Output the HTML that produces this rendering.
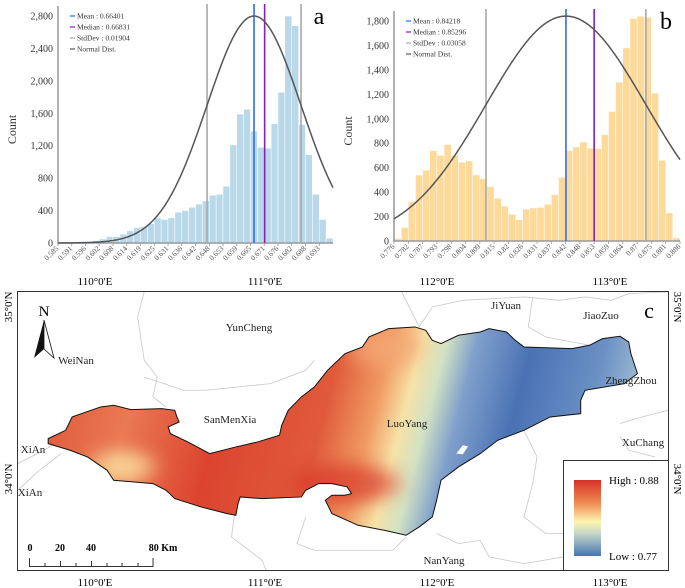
<!DOCTYPE html>
<html><head><meta charset="utf-8"><style>
html,body{margin:0;padding:0;background:#fff;}
svg{display:block;font-family:"Liberation Serif",serif;}
</style></head><body>
<svg id="root" width="685" height="588" viewBox="0 0 685 588">
<defs>
<linearGradient id="basinGrad" gradientUnits="userSpaceOnUse" x1="110" y1="350" x2="1460" y2="620">
<stop offset="0" stop-color="#e0563a"/><stop offset="0.15" stop-color="#ea7a52"/><stop offset="0.3" stop-color="#dc4430"/>
<stop offset="0.47" stop-color="#e05a3a"/><stop offset="0.55" stop-color="#f09a62"/><stop offset="0.6" stop-color="#f6e2a6"/>
<stop offset="0.64" stop-color="#d2e2c4"/><stop offset="0.69" stop-color="#7f9fcc"/><stop offset="0.78" stop-color="#4a72b4"/>
<stop offset="0.9" stop-color="#6a90c4"/><stop offset="1" stop-color="#b4cbd8"/></linearGradient>
<linearGradient id="legGrad" x1="0" y1="0" x2="0" y2="1">
<stop offset="0" stop-color="#d73027"/><stop offset="0.3" stop-color="#f08a52"/><stop offset="0.55" stop-color="#fdf5b0"/><stop offset="0.7" stop-color="#c8d8c8"/><stop offset="1" stop-color="#4575b4"/></linearGradient>
<clipPath id="basinClip"><path id="basinShape" d="M110,565 L150,540 L165,500 L230,470 L260,465 L300,478 L370,475 L400,480 L405,500 L410,515 L385,530 L390,550 L430,575 L480,610 L540,590 L590,575 L640,555 L645,525 L660,480 L690,440 L720,410 L750,360 L790,310 L830,290 L845,260 L890,235 L950,230 L975,240 L990,270 L1010,280 L1050,255 L1100,245 L1120,235 L1160,245 L1180,270 L1200,290 L1310,295 L1350,285 L1380,265 L1420,258 L1440,275 L1445,310 L1460,370 L1430,400 L1340,420 L1330,450 L1330,490 L1260,500 L1200,540 L1140,570 L1100,610 L1050,650 L1010,690 L1000,750 L990,800 L960,830 L930,855 L880,840 L820,825 L760,790 L745,750 L760,735 L790,735 L805,730 L795,710 L760,700 L730,700 L700,720 L690,740 L600,745 L550,740 L545,760 L540,795 L520,790 L490,780 L460,770 L400,745 L380,720 L350,700 L260,690 L245,660 L200,620 L160,600 L110,580 Z"/></clipPath>
<filter id="blur" x="-50%" y="-50%" width="200%" height="200%"><feGaussianBlur stdDeviation="25"/></filter>
</defs>
<g id="chartA"></g>
<g id="chartB"></g>

<g>
<text x="95" y="285" font-size="11" text-anchor="middle">110°0'E</text>
<text x="265" y="285" font-size="11" text-anchor="middle">111°0'E</text>
<text x="437" y="285" font-size="11" text-anchor="middle">112°0'E</text>
<text x="610" y="285" font-size="11" text-anchor="middle">113°0'E</text>
<text x="95" y="586" font-size="11" text-anchor="middle">110°0'E</text>
<text x="265" y="586" font-size="11" text-anchor="middle">111°0'E</text>
<text x="437" y="586" font-size="11" text-anchor="middle">112°0'E</text>
<text x="610" y="586" font-size="11" text-anchor="middle">113°0'E</text>
<text transform="translate(12,307) rotate(-90)" font-size="11" text-anchor="middle">35°0'N</text>
<text transform="translate(12,479) rotate(-90)" font-size="11" text-anchor="middle">34°0'N</text>
<text transform="translate(674,307) rotate(90)" font-size="11" text-anchor="middle">35°0'N</text>
<text transform="translate(674,479) rotate(90)" font-size="11" text-anchor="middle">34°0'N</text>
<g transform="translate(0.15,250.3) scale(0.4365,0.3333)">
<g fill="none" stroke="#c8c8c8" stroke-width="0.8">
<path vector-effect="non-scaling-stroke" d="M330,125 L315,200 L330,330 L360,380 L350,440 L380,470"/>
<path vector-effect="non-scaling-stroke" d="M330,380 L420,420 L470,420 L620,400 L700,360 L720,330"/>
<path vector-effect="non-scaling-stroke" d="M40,640 L100,600 L150,560"/>
<path vector-effect="non-scaling-stroke" d="M40,720 L90,660 L140,610"/>
<path vector-effect="non-scaling-stroke" d="M920,125 L960,230 L990,170 L1060,150 L1200,140 L1280,150 L1340,140 L1400,150 L1440,130 L1530,125"/>
<path vector-effect="non-scaling-stroke" d="M1220,140 L1210,230 L1250,260 L1350,285"/>
<path vector-effect="non-scaling-stroke" d="M540,760 L530,860 L600,930 L610,962"/>
<path vector-effect="non-scaling-stroke" d="M700,800 L680,880 L720,900 L900,900 L930,860"/>
<path vector-effect="non-scaling-stroke" d="M1000,850 L1050,880 L1100,870 L1120,920 L1200,940 L1290,920"/>
<path vector-effect="non-scaling-stroke" d="M1200,540 L1230,620 L1220,700 L1200,800 L1250,850 L1290,850"/>
<path vector-effect="non-scaling-stroke" d="M1420,520 L1470,500 L1530,480"/>
<path vector-effect="non-scaling-stroke" d="M1420,560 L1440,600 L1500,620"/>
</g>
<g clip-path="url(#basinClip)">
<rect x="100" y="220" width="1370" height="650" fill="url(#basinGrad)"/>
<ellipse cx="280" cy="650" rx="70" ry="50" fill="#f8d898" filter="url(#blur)" opacity="0.9"/>
<ellipse cx="880" cy="290" rx="80" ry="60" fill="#f4a874" filter="url(#blur)" opacity="0.8"/>
<ellipse cx="790" cy="700" rx="120" ry="60" fill="#d8382a" filter="url(#blur)" opacity="0.7"/>
</g>
<path fill="none" stroke="#111" stroke-width="1" vector-effect="non-scaling-stroke"
d="M110,565 L150,540 L165,500 L230,470 L260,465 L300,478 L370,475 L400,480 L405,500 L410,515 L385,530 L390,550 L430,575 L480,610 L540,590 L590,575 L640,555 L645,525 L660,480 L690,440 L720,410 L750,360 L790,310 L830,290 L845,260 L890,235 L950,230 L975,240 L990,270 L1010,280 L1050,255 L1100,245 L1120,235 L1160,245 L1180,270 L1200,290 L1310,295 L1350,285 L1380,265 L1420,258 L1440,275 L1445,310 L1460,370 L1430,400 L1340,420 L1330,450 L1330,490 L1260,500 L1200,540 L1140,570 L1100,610 L1050,650 L1010,690 L1000,750 L990,800 L960,830 L930,855 L880,840 L820,825 L760,790 L745,750 L760,735 L790,735 L805,730 L795,710 L760,700 L730,700 L700,720 L690,740 L600,745 L550,740 L545,760 L540,795 L520,790 L490,780 L460,770 L400,745 L380,720 L350,700 L260,690 L245,660 L200,620 L160,600 L110,580 Z"/>
<path d="M1045,610 L1060,585 L1072,588 L1060,612 Z" fill="#fff"/>
</g>
<rect x="17.5" y="291.5" width="651" height="279" fill="none" stroke="#333" stroke-width="1"/>
<g>
<text x="44" y="316" font-size="15" text-anchor="middle">N</text>
<polygon points="44,320 34,358 44,349" fill="#111"/><polygon points="44,320 54,358 44,349" fill="#fff" stroke="#111" stroke-width="0.8"/>
</g>
<text x="649" y="318" font-size="22" text-anchor="middle">c</text>
<g font-size="11" fill="#222">
<text x="249" y="331" text-anchor="middle">YunCheng</text>
<text x="506" y="309" text-anchor="middle">JiYuan</text>
<text x="601" y="319" text-anchor="middle">JiaoZuo</text>
<text x="76" y="364" text-anchor="middle">WeiNan</text>
<text x="631" y="384" text-anchor="middle">ZhengZhou</text>
<text x="230" y="423" text-anchor="middle">SanMenXia</text>
<text x="407" y="427" text-anchor="middle">LuoYang</text>
<text x="643" y="446" text-anchor="middle">XuChang</text>
<text x="33" y="453" text-anchor="middle">XiAn</text>
<text x="30" y="496" text-anchor="middle">XiAn</text>
<text x="444" y="564" text-anchor="middle">NanYang</text>
</g>
<g font-size="10" font-weight="bold">
<text x="30" y="551" text-anchor="middle">0</text><text x="60" y="551" text-anchor="middle">20</text>
<text x="91" y="551" text-anchor="middle">40</text><text x="163" y="551" text-anchor="middle">80 Km</text>
<path d="M29.5,558 V566.5 H153 V558 M45,563 V566 M60.5,561 V566 M76,563 V566 M91.5,561 V566 M107,563 V566 M122,563 V566 M138,563 V566" fill="none" stroke="#333" stroke-width="1"/>
</g>
<g>
<rect x="563.5" y="460.5" width="105" height="110" fill="#fff" stroke="#333" stroke-width="1"/>
<rect x="574" y="480" width="27" height="76" fill="url(#legGrad)"/>
<text x="609" y="484" font-size="11">High : 0.88</text>
<text x="609" y="560" font-size="11">Low : 0.77</text>
</g>
</g>
</svg>
<script>
// ---------- Histogram A data ----------
const aCounts = [10,10,10,20,20,30,50,80,80,110,150,190,200,240,310,290,310,380,400,440,480,520,590,600,700,1210,1590,1650,1380,1180,1170,1470,1860,2800,2680,1460,1090,600,290,60];
const aTickLabels = ["0.585","0.591","0.596","0.602","0.608","0.614","0.619","0.625","0.631","0.636","0.642","0.648","0.653","0.659","0.665","0.671","0.676","0.682","0.688","0.693"];
const aYTicks = [0,400,800,1200,1600,2000,2400,2800];
const aStats = [0.66401, 0.66831, 0.01904];
const aDomain = [0.5846, 0.6960];
// ---------- Histogram B data ----------
const bCounts = [20,110,320,540,580,740,700,790,700,645,655,540,510,445,350,285,220,175,260,270,275,300,380,520,740,770,810,760,755,870,1060,1300,1580,1820,1840,1830,1210,660,230,25];
const bTickLabels = ["0.776","0.782","0.787","0.793","0.798","0.804","0.809","0.815","0.82","0.826","0.831","0.837","0.842","0.848","0.853","0.859","0.864","0.87","0.875","0.881","0.886"];
const bYTicks = [0,200,400,600,800,1000,1200,1400,1600,1800];
const bStats = [0.84218, 0.85296, 0.03058];
const bDomain = [0.7764, 0.8858];

const NS = "http://www.w3.org/2000/svg";
function mk(parent, tag, attrs, txt){ const e=document.createElementNS(NS,tag); for(const k in attrs) e.setAttribute(k,attrs[k]); if(txt!==undefined) e.textContent=txt; parent.appendChild(e); return e; }

function drawHist(gid, counts, ticks, yTicks, stats, domain, box, yMax, peak, fill, letter){
  const g=document.getElementById(gid);
  const [L,R,T,B]=box;
  const xs=v=>L+(v-domain[0])/(domain[1]-domain[0])*(R-L);
  const ys=v=>B-v/yMax*(B-T);
  const bw=(R-L)/counts.length;
  counts.forEach((c,i)=>{
    const r=mk(g,'rect',{x:L+i*bw,y:ys(c),width:bw,height:B-ys(c),fill:fill,stroke:'#fff','stroke-width':0.5});
    
    
  });
  yTicks.forEach(t=>{
    const tx=mk(g,'text',{x:L-5,y:ys(t)+3.5,'font-size':10,'text-anchor':'end',fill:'#333'},t.toLocaleString('en-US'));
    
    
  });
  const tickStep=2*bw;
  ticks.forEach((t,i)=>{
    const x=L+i*tickStep;
    mk(g,'line',{x1:x,x2:x,y1:B,y2:B+3,stroke:'#999','stroke-width':0.8});
    const tx=mk(g,'text',{transform:`translate(${x+1},${B+6}) rotate(-45)`,'font-size':7.5,'text-anchor':'end',fill:'#555'},t);
    
    
  });
  const ax=mk(g,'path',{d:`M${L},${T-10} V${B} H${R}`,stroke:'#999',fill:'none','stroke-width':1.5});
  
  
  const [mean,med,sd]=stats;
  [[mean-sd,'#a8a8a8','stddev-line-low'],[mean+sd,'#a8a8a8','stddev-line-high'],[mean,'#2f6fe0','mean-line'],[med,'#8a1fb0','median-line']].forEach(([v,c,n])=>{
    const l=mk(g,'line',{x1:xs(v),x2:xs(v),y1:T-12,y2:B,stroke:c,'stroke-width':1.6});
    
    
  });
  let d='';
  for(let px=L;px<=R;px+=1){
    const v=domain[0]+(px-L)/(R-L)*(domain[1]-domain[0]);
    const y=ys(peak*Math.exp(-0.5*((v-mean)/sd)**2));
    d+=(px===L?'M':'L')+px.toFixed(1)+','+y.toFixed(1);
  }
  const cv=mk(g,'path',{d:d,fill:'none',stroke:'#555','stroke-width':1.5});
  
  
  const legend=[['Mean : '+mean.toFixed(5),'#2f6fe0'],['Median : '+med.toFixed(5),'#8a1fb0'],['StdDev : '+sd.toFixed(5),'#a8a8a8'],['Normal Dist.','#555']];
  legend.forEach((e,i)=>{
    const y=T+i*11;
    mk(g,'line',{x1:L+12,x2:L+17,y1:y,y2:y,stroke:e[1],'stroke-width':1.2});
    const tx=mk(g,'text',{x:L+19,y:y+2.5,'font-size':7.5,fill:'#333'},e[0]);
    
    
  });
  const cl=mk(g,'text',{transform:`translate(${L-42},${(T+B)/2}) rotate(-90)`,'font-size':12,'text-anchor':'middle',fill:'#333'},'Count');
  
  
  const lt=mk(g,'text',{x:R-14,y:T+8,'font-size':24,'text-anchor':'middle'},letter);
  
  
}
drawHist('chartA',aCounts,aTickLabels,aYTicks,aStats,aDomain,[58,333,16,243],2800,2800,'#b9d9ea','a');
drawHist('chartB',bCounts,bTickLabels,bYTicks,bStats,bDomain,[394,680,21,241],1800,1840,'#fdd99a','b');
</script>
</body></html>
